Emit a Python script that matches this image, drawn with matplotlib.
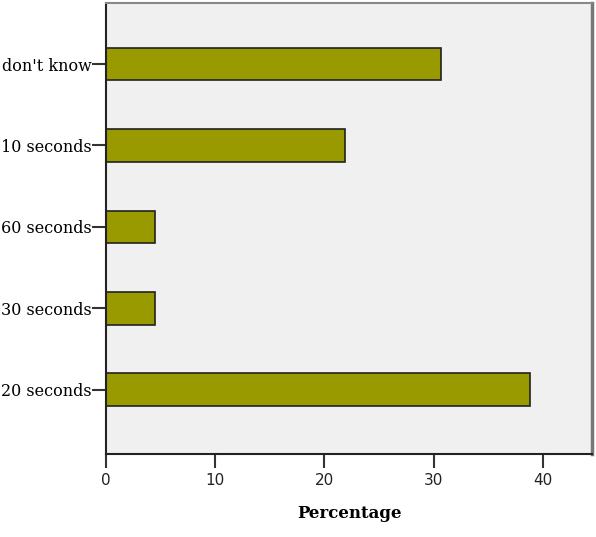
import matplotlib
matplotlib.use("Agg")
import matplotlib.pyplot as plt

categories = ["20 seconds", "30 seconds", "60 seconds", "10 seconds", "don't know"]
values = [38.8, 4.5, 4.5, 21.9, 30.7]
xticks = [0, 10, 20, 30, 40]

fig = plt.figure(figsize=(5.96, 5.37), dpi=100)
ax = fig.add_axes([106/596, 1-454/537, (592-106)/596, (454-3)/537])
ax.set_facecolor("#f0f0f0")
pos = list(range(len(categories)))
ax.barh(pos, values, height=0.4, color="#999900", edgecolor="#222222", linewidth=1.2)
ax.set_xlim(0, 44.5)
ax.set_ylim(-0.79, 4.75)
ax.set_yticks(pos)
ax.set_yticklabels(categories, family="DejaVu Serif", fontsize=11.5)
ax.set_xticks(xticks)
ax.set_xticklabels([str(t) for t in xticks], family="DejaVu Sans", fontsize=11, color="#222222")
ax.tick_params(axis="y", length=10, width=1.5, pad=0, color="#333333")
ax.tick_params(axis="x", length=10, width=1.5, pad=4, color="#333333")
ax.set_xlabel("Percentage", family="DejaVu Serif", fontweight="bold", fontsize=12, labelpad=12)
for s in ["left", "bottom"]:
    ax.spines[s].set_color("#222222")
    ax.spines[s].set_linewidth(1.5)
ax.spines["top"].set_color("#888888")
ax.spines["top"].set_linewidth(1.5)
ax.spines["right"].set_color("#777777")
ax.spines["right"].set_linewidth(2.5)
fig.savefig("out.png", dpi=100)
